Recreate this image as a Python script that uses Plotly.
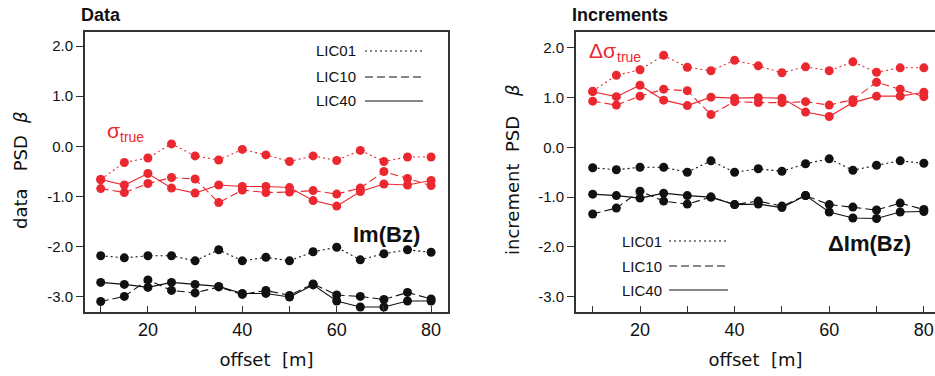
import plotly.graph_objects as go

# ---- data -------------------------------------------------------------
offset = [10, 15, 20, 25, 30, 35, 40, 45, 50, 55, 60, 65, 70, 75, 80]

# "Data" panel: PSD slope of the data
data_sigma_lic01 = [-0.66, -0.32, -0.23, 0.05, -0.19, -0.27, -0.06, -0.17, -0.30, -0.19, -0.28, -0.08, -0.30, -0.21, -0.21]
data_sigma_lic10 = [-0.84, -0.92, -0.74, -0.62, -0.65, -1.12, -0.87, -0.92, -0.91, -0.88, -0.95, -0.83, -0.50, -0.64, -0.78]
data_sigma_lic40 = [-0.66, -0.77, -0.54, -0.83, -0.93, -0.77, -0.80, -0.80, -0.82, -1.08, -1.19, -0.90, -0.75, -0.77, -0.68]
data_imbz_lic01 = [-2.18, -2.22, -2.18, -2.18, -2.28, -2.06, -2.28, -2.21, -2.28, -2.10, -2.01, -2.26, -2.14, -2.06, -2.11]
data_imbz_lic10 = [-3.09, -2.99, -2.66, -2.87, -2.92, -2.80, -2.95, -2.87, -2.97, -2.74, -2.96, -2.99, -3.05, -2.91, -3.04]
data_imbz_lic40 = [-2.71, -2.75, -2.81, -2.71, -2.75, -2.79, -2.93, -2.93, -3.00, -2.76, -3.08, -3.20, -3.20, -3.08, -3.08]

# "Increments" panel: PSD slope of the increments
inc_sigma_lic01 = [1.13, 1.45, 1.56, 1.85, 1.61, 1.54, 1.75, 1.64, 1.50, 1.62, 1.54, 1.72, 1.51, 1.60, 1.60]
inc_sigma_lic10 = [0.93, 0.85, 1.03, 1.17, 1.14, 0.66, 0.92, 0.90, 0.90, 0.92, 0.85, 0.96, 1.31, 1.17, 1.02]
inc_sigma_lic40 = [1.12, 1.02, 1.25, 0.95, 0.84, 1.01, 0.99, 1.00, 0.99, 0.71, 0.62, 0.90, 1.03, 1.03, 1.11]
inc_imbz_lic01 = [-0.41, -0.45, -0.40, -0.40, -0.50, -0.27, -0.50, -0.43, -0.48, -0.33, -0.23, -0.46, -0.36, -0.27, -0.32]
inc_imbz_lic10 = [-1.34, -1.22, -0.88, -1.08, -1.14, -1.00, -1.15, -1.08, -1.18, -0.97, -1.15, -1.20, -1.26, -1.12, -1.25]
inc_imbz_lic40 = [-0.94, -0.97, -1.02, -0.92, -0.97, -1.00, -1.15, -1.14, -1.21, -0.97, -1.30, -1.42, -1.43, -1.30, -1.29]

series_names = ["LIC01", "LIC10", "LIC40"]
x_tick_vals = [20, 40, 60, 80]
x_tick_text = ["20", "40", "60", "80"]
x_minor_vals = [10, 30, 50, 70]
y_tick_vals = [2, 1, 0, -1, -2, -3]
y_tick_text = ["2.0", "1.0", "0.0", "-1.0", "-2.0", "-3.0"]

# ---- styling ----------------------------------------------------------
W, H = 935, 376
RED = "#eb2830"
BLACK = "#111111"
FRAME = "#333333"
DASHES = {"LIC01": "2px,3px", "LIC10": "8px,4px", "LIC40": "solid"}
SANS = "Liberation Sans, Arial, sans-serif"
WIDE = "DejaVu Sans, Verdana, sans-serif"
NB = "\u00a0"


def px_x(x):
    return x / W


def px_y(y):
    return 1 - y / H


fig = go.Figure()

panels = [
    ("x", "y", [data_sigma_lic01, data_sigma_lic10, data_sigma_lic40],
     [data_imbz_lic01, data_imbz_lic10, data_imbz_lic40]),
    ("x2", "y2", [inc_sigma_lic01, inc_sigma_lic10, inc_sigma_lic40],
     [inc_imbz_lic01, inc_imbz_lic10, inc_imbz_lic40]),
]

for xa, ya, red_sets, black_sets in panels:
    for color, sets in ((BLACK, black_sets), (RED, red_sets)):
        for name, vals in zip(series_names, sets):
            fig.add_trace(go.Scatter(
                x=offset, y=vals, xaxis=xa, yaxis=ya, mode="lines+markers",
                name=name, showlegend=False,
                line=dict(color=color, width=1.1, dash=DASHES[name]),
                marker=dict(color=color, size=9),
            ))

y_dom = [px_y(312), px_y(32)]

title_font = dict(family=WIDE, size=18, color="#111")

common_x = dict(
    tickmode="array", tickvals=x_tick_vals, ticktext=x_tick_text,
    ticks="inside", ticklen=6, tickwidth=1.3, tickcolor=FRAME,
    minor=dict(tickmode="array", tickvals=x_minor_vals, ticks="inside",
               ticklen=6, tickwidth=1.3, tickcolor=FRAME, showgrid=False),
    showline=True, linecolor=FRAME, linewidth=2, mirror=True,
    showgrid=False, zeroline=False,
    tickfont=dict(family=SANS, size=18, color="#111"),
    title=dict(text=f"offset{NB}{NB}[m]", font=title_font),
)
common_y = dict(
    tickmode="array", tickvals=y_tick_vals, ticktext=y_tick_text,
    ticks="outside", ticklen=7, tickwidth=1.3, tickcolor=FRAME,
    showline=True, linecolor=FRAME, linewidth=2,
    showgrid=False, zeroline=False,
    tickfont=dict(family=SANS, size=15, color="#111"),
)

fig.update_layout(
    width=W, height=H,
    margin=dict(l=0, r=0, t=0, b=0),
    paper_bgcolor="white", plot_bgcolor="white",
    xaxis=dict(domain=[px_x(85), px_x(448)], range=[6.67, 83.58], anchor="y", **common_x),
    yaxis=dict(domain=y_dom, range=[-3.30, 2.28], anchor="x", mirror=True, **common_y),
    xaxis2=dict(domain=[px_x(576), 1.0], range=[6.47, 82.36], anchor="y2", **common_x),
    yaxis2=dict(domain=y_dom, range=[-3.31, 2.32], anchor="x2", mirror=False, **common_y),
)

ann = []
shapes = []


def text(x, y, s, size, family=SANS, color="#111", xanchor="center",
         textangle=0, weight="normal", style="normal"):
    ann.append(dict(
        x=px_x(x), y=px_y(y), xref="paper", yref="paper", text=s, showarrow=False,
        xanchor=xanchor, yanchor="middle", textangle=textangle,
        font=dict(family=family, size=size, color=color, weight=weight, style=style),
    ))


# panel titles
text(79, 15, "Data", 18, xanchor="left", weight="bold")
text(570, 15, "Increments", 18, xanchor="left", weight="bold")

# rotated y titles (β set in italics)
text(20, 182, f"data{NB}{NB}{NB}PSD", 18, family=WIDE, textangle=-90)
text(20, 118, "β", 18, family=WIDE, textangle=-90, style="italic")
text(512, 186, f"increment{NB}{NB}PSD", 18, family=WIDE, textangle=-90)
text(512, 91, "β", 18, family=WIDE, textangle=-90, style="italic")

# in-plot labels
text(105, 130, "σ", 21, color=RED, xanchor="left")
text(118, 137, "true", 14, color=RED, xanchor="left")
text(587, 50, "Δσ", 21, color=RED, xanchor="left")
text(615, 57, "true", 14, color=RED, xanchor="left")
text(351, 234, "Im(Bz)", 22, xanchor="left", weight="bold")
text(826, 243, "ΔIm(Bz)", 22, xanchor="left", weight="bold")

# line-style keys
keys = [
    (358, 365, 423, [51, 77, 101]),
    (664, 669, 728, [241, 266, 290]),
]
for tx, x0, x1, ys in keys:
    for name, yy in zip(series_names, ys):
        text(tx, yy, name, 15, xanchor="right")
        shapes.append(dict(
            type="line", xref="paper", yref="paper",
            x0=px_x(x0), x1=px_x(x1), y0=px_y(yy), y1=px_y(yy),
            line=dict(color=BLACK, width=1.1, dash=DASHES[name]),
        ))

fig.update_layout(annotations=ann, shapes=shapes)

fig.write_html("out.html")
